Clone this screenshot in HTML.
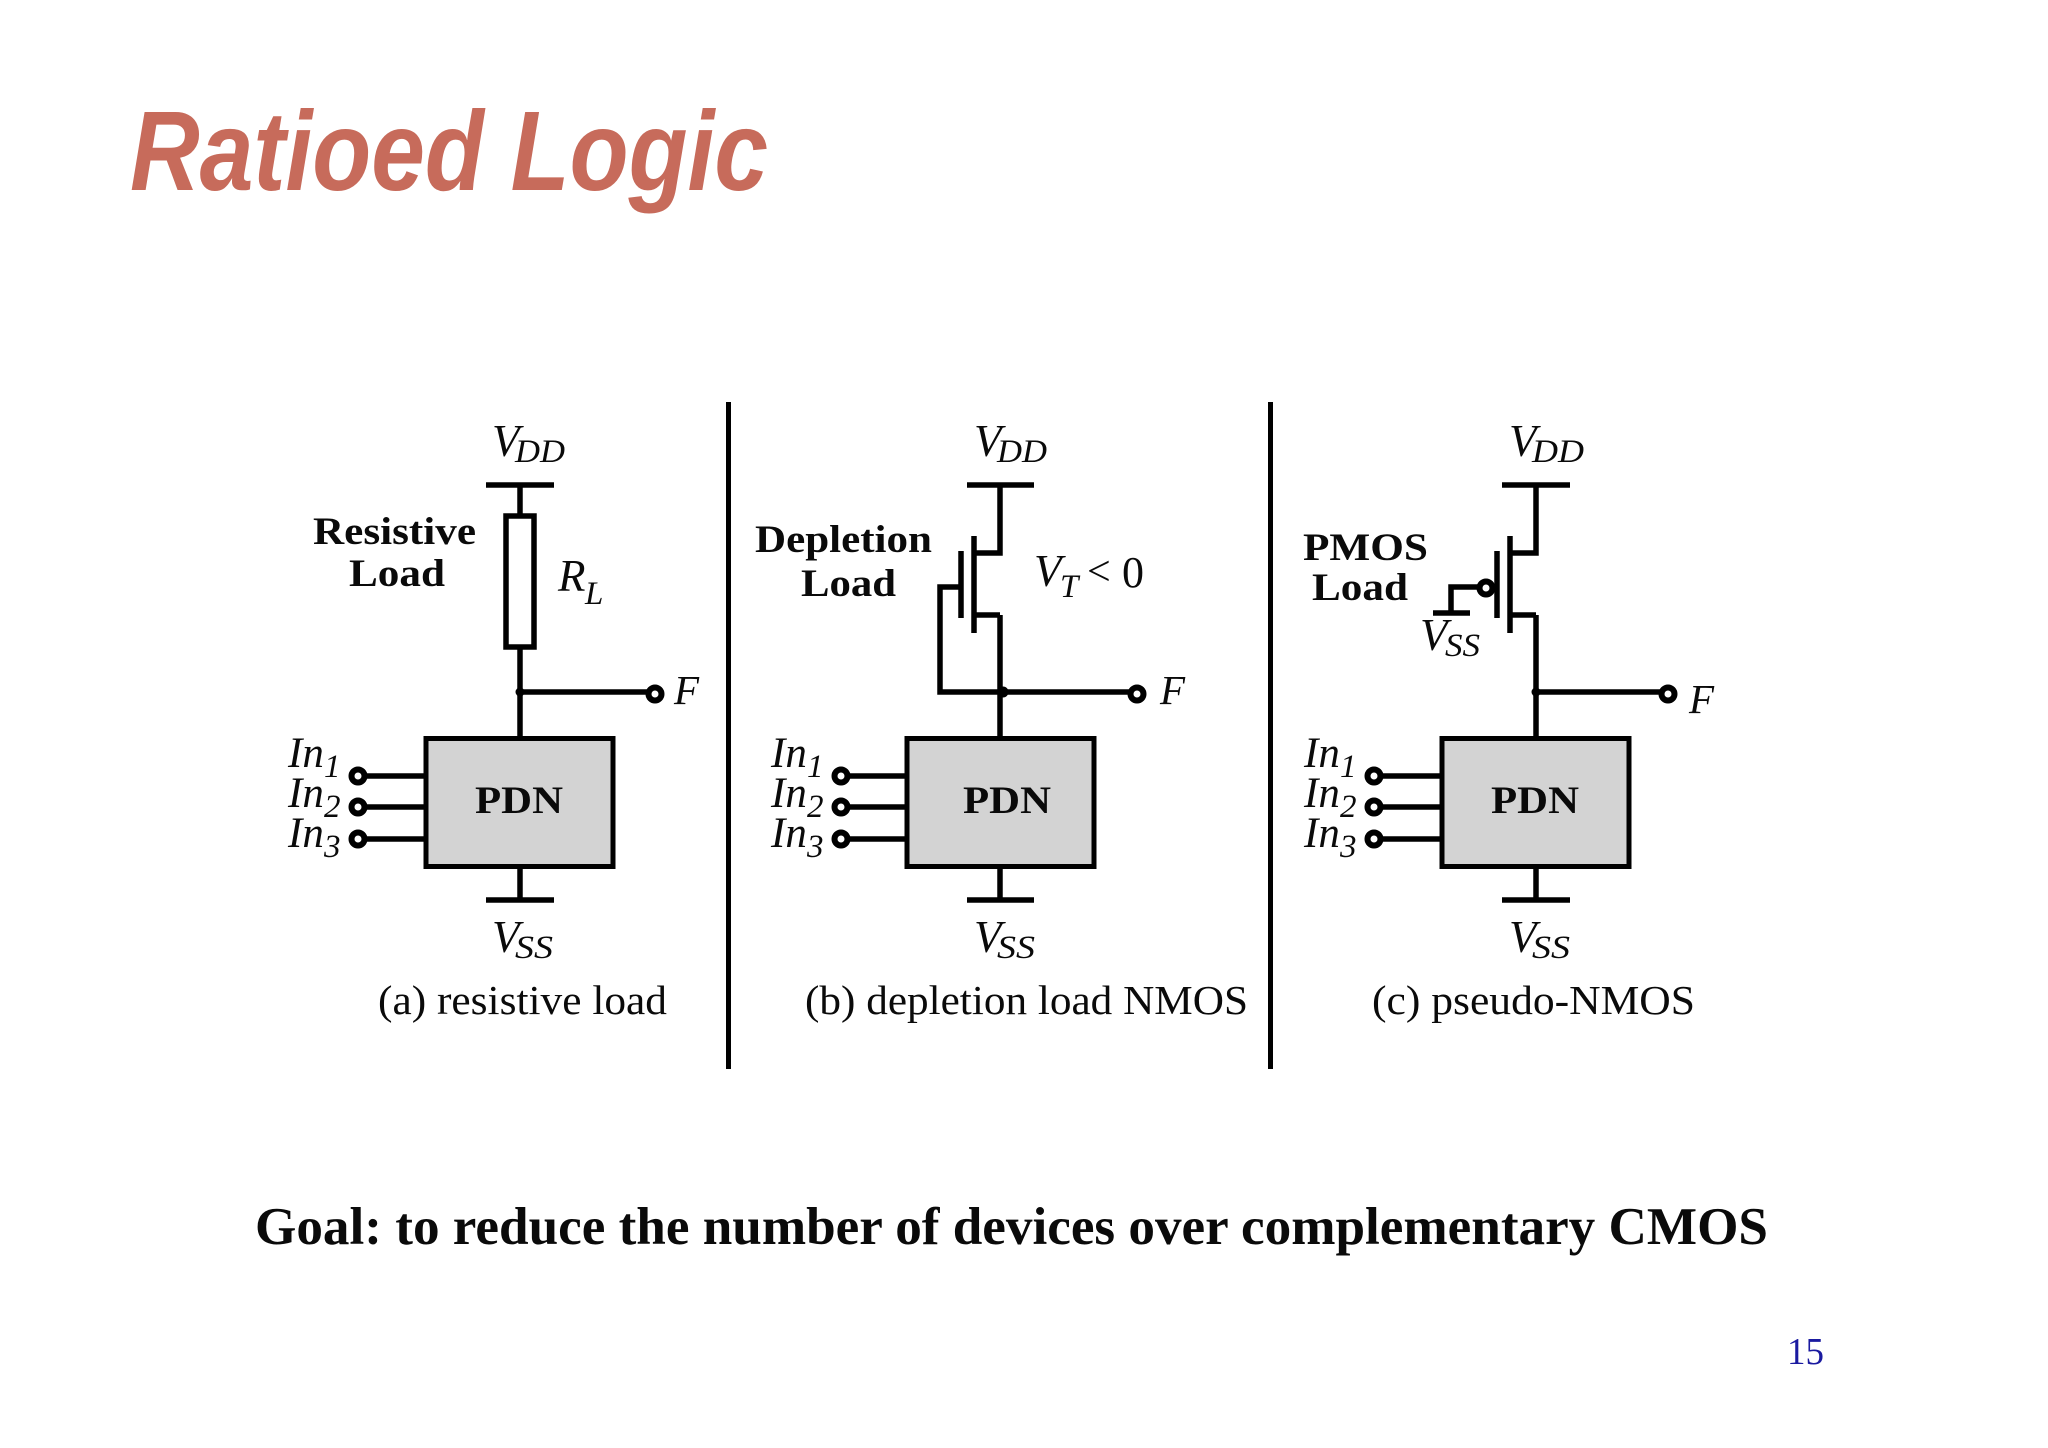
<!DOCTYPE html>
<html><head><meta charset="utf-8"><style>
html,body{margin:0;padding:0;background:#fff;width:2048px;height:1448px;overflow:hidden}
svg{display:block}
text{font-family:"Liberation Serif",serif;fill:#0a0a0a}
.m{font-size:45px;font-style:italic}
.s{font-size:33px;font-style:italic}
.n{font-size:43px;font-style:italic}
.b{font-size:39px;font-weight:bold}
.c{font-size:41px}
.w{fill:none;stroke:#000;stroke-width:5.5}
.t{fill:#fff;stroke:#000;stroke-width:6}
.p{fill:#d3d3d3;stroke:#000;stroke-width:5}
</style></head><body>
<svg width="2048" height="1448" viewBox="0 0 2048 1448" xmlns="http://www.w3.org/2000/svg">
<rect width="2048" height="1448" fill="#fff"/>
<text x="130" y="190" textLength="638" lengthAdjust="spacingAndGlyphs" style="font-family:'Liberation Sans',sans-serif;font-size:113px;font-weight:bold;font-style:italic;fill:#c76b5b">Ratioed Logic</text>

<rect x="731" y="402" width="5" height="667" fill="#000" transform="translate(-5 0)"/>
<rect x="1275" y="402" width="5" height="667" fill="#000" transform="translate(-7 0)"/>

<!-- (a) -->
<path class="w" d="M486 485H554M520 485V516M520 646V738M520 692H650M425 776H360M425 807H360M425 839H360M520 867V900M486 900H554"/>
<rect class="w" x="506" y="516" width="28" height="131"/>
<rect class="p" x="426" y="738.5" width="187" height="128"/>
<circle cx="520" cy="692" r="4.5" fill="#000"/>
<circle class="t" cx="655" cy="694" r="6.5"/>
<circle class="t" cx="358" cy="776" r="6.5"/><circle class="t" cx="358" cy="807" r="6.5"/><circle class="t" cx="358" cy="839" r="6.5"/>
<text class="m" x="492" y="456">V</text><text class="s" x="515" y="462" textLength="50" lengthAdjust="spacingAndGlyphs">DD</text>
<text class="b" x="313" y="544" textLength="163" lengthAdjust="spacingAndGlyphs">Resistive</text>
<text class="b" x="349" y="586" textLength="96" lengthAdjust="spacingAndGlyphs">Load</text>
<text class="m" x="558" y="591">R</text><text class="s" x="585" y="604">L</text>
<text class="m" x="674" y="704" style="font-size:41px">F</text>
<text class="n" x="288" y="767">In</text><text class="s" x="324" y="777">1</text>
<text class="n" x="288" y="807">In</text><text class="s" x="324" y="817">2</text>
<text class="n" x="288" y="847">In</text><text class="s" x="324" y="857">3</text>
<text class="b" x="475" y="813" textLength="88" lengthAdjust="spacingAndGlyphs">PDN</text>
<text class="m" x="492" y="952">V</text><text class="s" x="515" y="958" textLength="38" lengthAdjust="spacingAndGlyphs">SS</text>
<text class="c" x="378" y="1014" textLength="289" lengthAdjust="spacingAndGlyphs">(a) resistive load</text>

<!-- (b) -->
<path class="w" d="M967 485H1034M1000 485V553H975M1000 615H975M1000 615V738M974 536V633M961 551V618M961 587H940V692H1000M1000 692H1131M905 776H843M905 807H843M905 839H843M1000 867V900M967 900H1034"/>
<rect class="p" x="907" y="738.5" width="187" height="128"/>
<circle cx="1003" cy="692" r="5.5" fill="#000"/>
<circle class="t" cx="1137" cy="694" r="6.5"/>
<circle class="t" cx="841" cy="776" r="6.5"/><circle class="t" cx="841" cy="807" r="6.5"/><circle class="t" cx="841" cy="839" r="6.5"/>
<text class="m" x="974" y="456">V</text><text class="s" x="997" y="462" textLength="50" lengthAdjust="spacingAndGlyphs">DD</text>
<text class="b" x="755" y="552" textLength="177" lengthAdjust="spacingAndGlyphs">Depletion</text>
<text class="b" x="801" y="596" textLength="95" lengthAdjust="spacingAndGlyphs">Load</text>
<text class="m" x="1034" y="586">V</text><text class="s" x="1060" y="597">T</text>
<text class="m" x="1087" y="585" style="font-style:normal;font-size:42px">&lt;</text><text class="m" x="1122" y="587" style="font-style:normal;font-size:44px">0</text>
<text class="m" x="1160" y="704" style="font-size:41px">F</text>
<text class="n" x="771" y="767">In</text><text class="s" x="807" y="777">1</text>
<text class="n" x="771" y="807">In</text><text class="s" x="807" y="817">2</text>
<text class="n" x="771" y="847">In</text><text class="s" x="807" y="857">3</text>
<text class="b" x="963" y="813" textLength="88" lengthAdjust="spacingAndGlyphs">PDN</text>
<text class="m" x="974" y="952">V</text><text class="s" x="997" y="958" textLength="38" lengthAdjust="spacingAndGlyphs">SS</text>
<text class="c" x="805" y="1014" textLength="443" lengthAdjust="spacingAndGlyphs">(b) depletion load NMOS</text>

<!-- (c) -->
<path class="w" d="M1502 485H1570M1536 485V553H1511M1536 615H1511M1536 615V738M1510 536V633M1497 551V618M1480 587H1451V613M1433 613H1470M1536 692H1664M1442 776H1376M1442 807H1376M1442 839H1376M1536 867V900M1502 900H1570"/>
<rect class="p" x="1449" y="738.5" width="187" height="128" transform="translate(-7 0)"/>
<circle cx="1536" cy="692" r="4.5" fill="#000"/>
<circle class="t" cx="1668" cy="694" r="6.5"/>
<circle class="t" cx="1486" cy="588" r="6.5"/>
<circle class="t" cx="1374" cy="776" r="6.5"/><circle class="t" cx="1374" cy="807" r="6.5"/><circle class="t" cx="1374" cy="839" r="6.5"/>
<text class="m" x="1509" y="456">V</text><text class="s" x="1532" y="462" textLength="52" lengthAdjust="spacingAndGlyphs">DD</text>
<text class="b" x="1303" y="560" textLength="125" lengthAdjust="spacingAndGlyphs">PMOS</text>
<text class="b" x="1312" y="600" textLength="96" lengthAdjust="spacingAndGlyphs">Load</text>
<text class="m" x="1420" y="650">V</text><text class="s" x="1445" y="656" textLength="35" lengthAdjust="spacingAndGlyphs">SS</text>
<text class="m" x="1689" y="713" style="font-size:41px">F</text>
<text class="n" x="1304" y="767">In</text><text class="s" x="1340" y="777">1</text>
<text class="n" x="1304" y="807">In</text><text class="s" x="1340" y="817">2</text>
<text class="n" x="1304" y="847">In</text><text class="s" x="1340" y="857">3</text>
<text class="b" x="1491" y="813" textLength="88" lengthAdjust="spacingAndGlyphs">PDN</text>
<text class="m" x="1509" y="952">V</text><text class="s" x="1532" y="958" textLength="38" lengthAdjust="spacingAndGlyphs">SS</text>
<text class="c" x="1372" y="1014" textLength="323" lengthAdjust="spacingAndGlyphs">(c) pseudo-NMOS</text>

<text x="255" y="1244" textLength="1513" lengthAdjust="spacingAndGlyphs" style="font-size:53px;font-weight:bold">Goal: to reduce the number of devices over complementary CMOS</text>
<text x="1787" y="1364" textLength="37" lengthAdjust="spacingAndGlyphs" style="font-size:38px;fill:#1a1aa0">15</text>
</svg>
</body></html>
